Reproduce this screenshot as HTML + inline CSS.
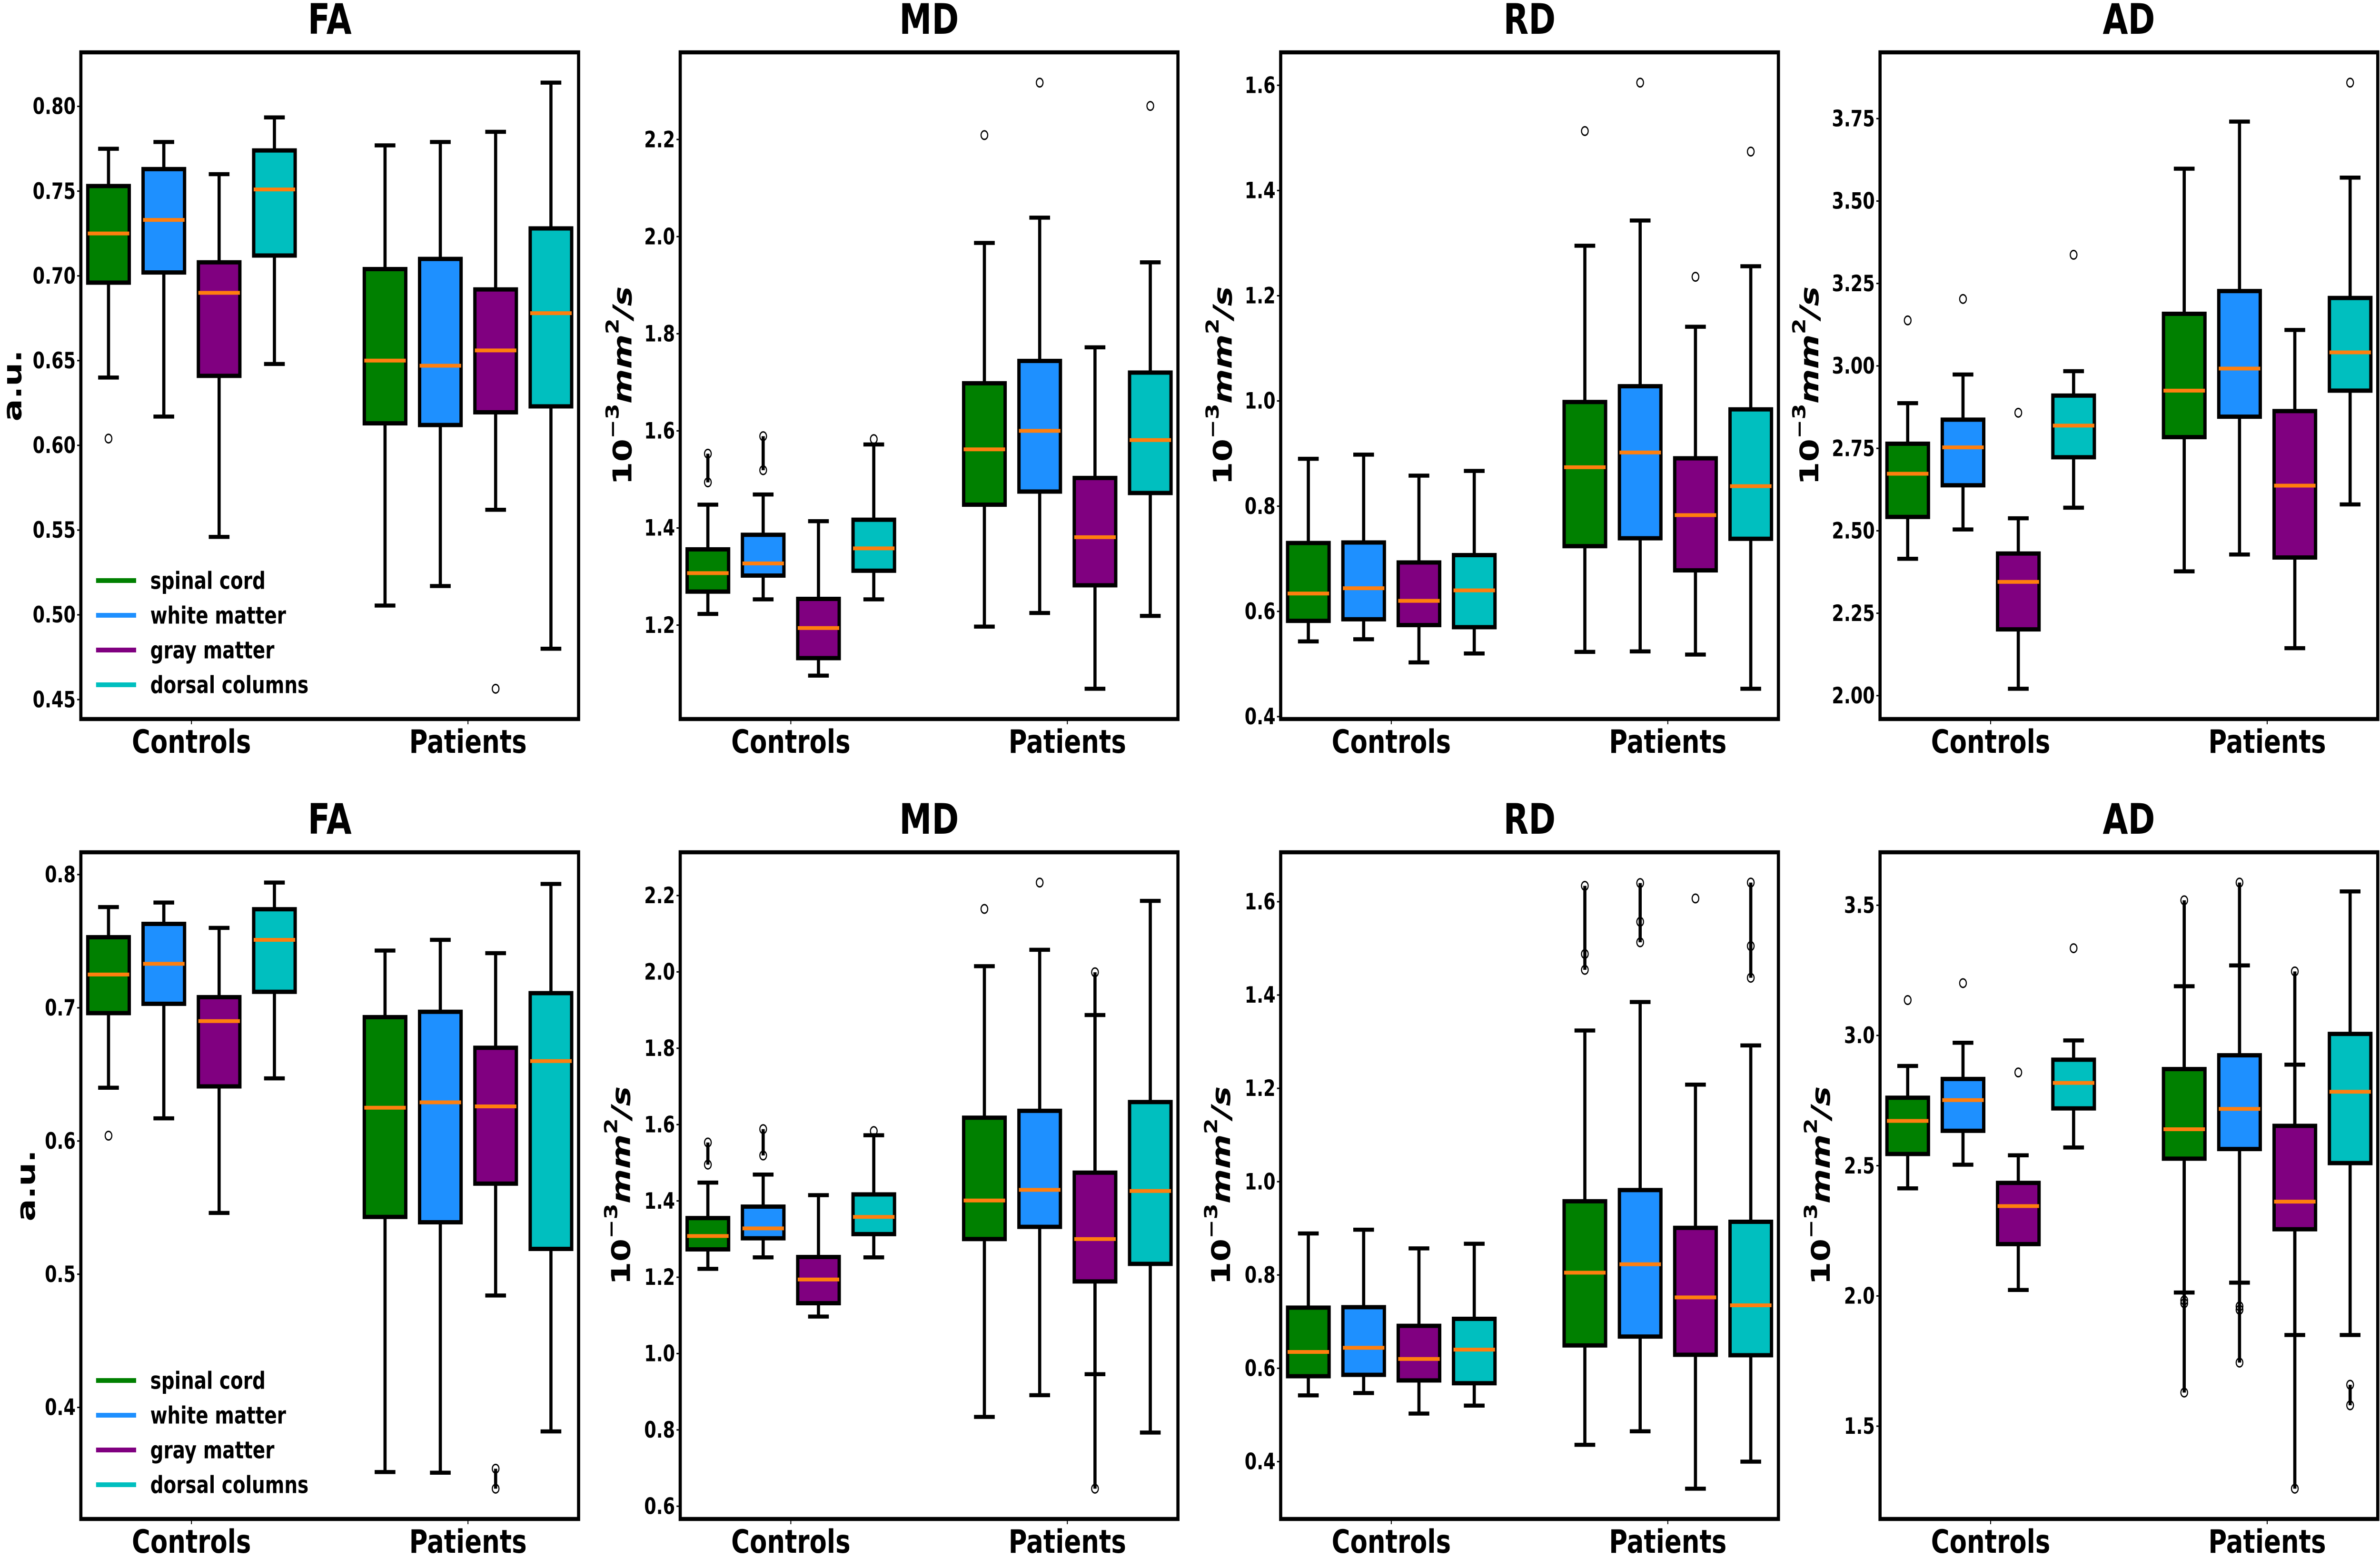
<!DOCTYPE html>
<html><head><meta charset="utf-8"><style>
html,body{margin:0;padding:0;background:#fff;overflow:hidden;width:100%;height:100%;}
svg{display:block;font-family:"DejaVu Sans","Liberation Sans",sans-serif;font-weight:bold;overflow:hidden;width:100vw;height:100vh;}
</style></head>
<body>
<svg id="fig" viewBox="0 0 6417 3274" preserveAspectRatio="none" xmlns="http://www.w3.org/2000/svg"></svg>
<script>
// categories / series order: Controls x4 regions then Patients x4 regions
const groups = ["Controls", "Patients"];
const regions = ["spinal cord", "white matter", "gray matter", "dorsal columns"];
const regionColors = ["#008000", "#1e90ff", "#800080", "#00bfbf"];

// ---- FA (top) ----
const faTopMed = [0.725,0.733,0.690,0.751, 0.650,0.647,0.656,0.678];
const faTopQ1  = [0.696,0.702,0.641,0.712, 0.613,0.612,0.6195,0.623];
const faTopQ3  = [0.753,0.763,0.708,0.774, 0.704,0.710,0.692,0.728];
const faTopLo  = [0.640,0.617,0.546,0.648, 0.5055,0.517,0.562,0.480];
const faTopHi  = [0.775,0.779,0.760,0.7935, 0.777,0.779,0.785,0.814];
const faTopFl  = [[0.604],[],[],[], [],[],[0.4564],[]];
const faTopTicks = [0.45,0.50,0.55,0.60,0.65,0.70,0.75,0.80];
// ---- MD (top) ----
const mdTopMed = [1.307,1.327,1.194,1.358, 1.562,1.600,1.381,1.581];
const mdTopQ1  = [1.269,1.302,1.132,1.312, 1.448,1.475,1.282,1.472];
const mdTopQ3  = [1.356,1.386,1.254,1.417, 1.698,1.744,1.503,1.720];
const mdTopLo  = [1.223,1.253,1.096,1.253, 1.197,1.225,1.069,1.219];
const mdTopHi  = [1.448,1.469,1.414,1.572, 1.987,2.039,1.772,1.947];
const mdTopFl  = [[1.553,1.494],[1.589,1.519],[],[1.583], [2.209],[2.317],[],[2.269]];
const mdTopTicks = [1.2,1.4,1.6,1.8,2.0,2.2];
// ---- RD (top) ----
const rdTopMed = [0.634,0.644,0.620,0.640, 0.874,0.902,0.783,0.838];
const rdTopQ1  = [0.582,0.585,0.574,0.570, 0.724,0.739,0.678,0.738];
const rdTopQ3  = [0.730,0.731,0.693,0.707, 0.998,1.028,0.891,0.984];
const rdTopLo  = [0.543,0.547,0.503,0.520, 0.523,0.524,0.518,0.453];
const rdTopHi  = [0.890,0.898,0.858,0.867, 1.295,1.343,1.141,1.256];
const rdTopFl  = [[],[],[],[], [1.513],[1.605],[1.236],[1.474]];
const rdTopTicks = [0.4,0.6,0.8,1.0,1.2,1.4,1.6];
// ---- AD (top) ----
const adTopMed = [2.673,2.753,2.345,2.819, 2.925,2.992,2.637,3.041];
const adTopQ1  = [2.542,2.638,2.201,2.723, 2.784,2.846,2.419,2.925];
const adTopQ3  = [2.764,2.837,2.431,2.910, 3.158,3.227,2.863,3.206];
const adTopLo  = [2.415,2.504,2.021,2.570, 2.377,2.428,2.144,2.580];
const adTopHi  = [2.887,2.974,2.538,2.984, 3.598,3.741,3.109,3.571];
const adTopFl  = [[3.138],[3.203],[2.858],[3.337], [],[],[],[3.859]];
const adTopTicks = [2.00,2.25,2.50,2.75,3.00,3.25,3.50,3.75];
// ---- FA (bottom) ----
const faBotMed = [0.725,0.733,0.690,0.751, 0.625,0.629,0.626,0.660];
const faBotQ1  = [0.696,0.703,0.641,0.712, 0.543,0.539,0.568,0.519];
const faBotQ3  = [0.753,0.763,0.708,0.774, 0.693,0.697,0.670,0.711];
const faBotLo  = [0.640,0.617,0.546,0.647, 0.3515,0.351,0.484,0.382];
const faBotHi  = [0.7756,0.779,0.760,0.794, 0.743,0.751,0.741,0.793];
const faBotFl  = [[0.604],[],[],[], [],[],[0.354,0.339],[]];
const faBotTicks = [0.4,0.5,0.6,0.7,0.8];
// ---- MD (bottom) ----
const mdBotMed = [1.308,1.328,1.194,1.358, 1.401,1.429,1.300,1.426];
const mdBotQ1  = [1.273,1.302,1.132,1.313, 1.300,1.332,1.189,1.235];
const mdBotQ3  = [1.355,1.385,1.253,1.417, 1.618,1.636,1.474,1.659];
const mdBotLo  = [1.222,1.252,1.097,1.252, 0.834,0.891,0.946,0.793];
const mdBotHi  = [1.448,1.469,1.415,1.572, 2.015,2.058,1.887,2.186];
const mdBotFl  = [[1.553,1.495],[1.588,1.519],[],[1.583], [2.165],[2.234],[1.999,0.646],[]];
const mdBotTicks = [0.6,0.8,1.0,1.2,1.4,1.6,1.8,2.0,2.2];
// ---- RD (bottom) ----
const rdBotMed = [0.635,0.644,0.620,0.640, 0.805,0.823,0.752,0.735];
const rdBotQ1  = [0.583,0.586,0.574,0.568, 0.649,0.668,0.629,0.628];
const rdBotQ3  = [0.730,0.731,0.691,0.706, 0.958,0.982,0.901,0.914];
const rdBotLo  = [0.542,0.547,0.503,0.520, 0.436,0.465,0.342,0.400];
const rdBotHi  = [0.889,0.897,0.857,0.867, 1.324,1.385,1.208,1.292];
const rdBotFl  = [[],[],[],[], [1.634,1.488,1.454],[1.640,1.557,1.513],[1.607],[1.641,1.505,1.437]];
const rdBotTicks = [0.4,0.6,0.8,1.0,1.2,1.4,1.6];
// ---- AD (bottom) ----
const adBotMed = [2.672,2.752,2.345,2.818, 2.640,2.718,2.362,2.784];
const adBotQ1  = [2.545,2.634,2.199,2.720, 2.527,2.564,2.256,2.510];
const adBotQ3  = [2.761,2.833,2.434,2.907, 2.871,2.924,2.653,3.006];
const adBotLo  = [2.413,2.504,2.023,2.570, 2.013,2.051,1.850,1.850];
const adBotHi  = [2.883,2.972,2.540,2.981, 3.189,3.269,2.888,3.553];
const adBotFl  = [[3.136],[3.201],[2.858],[3.335], [3.519,1.983,1.972,1.629],[3.587,1.960,1.947,1.744],[3.246,1.260],[1.659,1.580]];
const adBotTicks = [1.5,2.0,2.5,3.0,3.5];

const NS = "http://www.w3.org/2000/svg";
const fig = document.getElementById("fig");
function mk(tag, attrs, parent){
  const e = document.createElementNS(NS, tag);
  for (const k in attrs) e.setAttribute(k, attrs[k]);
  (parent || fig).appendChild(e);
  return e;
}

const AX_W = 1342, AX_H = 1401;
const XMIN = 0.6, XMAX = 2.4;
const offsets = [-0.3, -0.1, 0.1, 0.3];
const BOX_W = 0.15;
const LW = 8.5;

const panels = [
  {key:"fa-top", title:"FA", left:218, top:110, ylab:"au", ylx:33, dec:2, med:faTopMed,q1:faTopQ1,q3:faTopQ3,lo:faTopLo,hi:faTopHi,fl:faTopFl,ticks:faTopTicks, legend:true},
  {key:"md-top", title:"MD", left:1834, top:110, ylab:"unit", ylx:1678, dec:1, med:mdTopMed,q1:mdTopQ1,q3:mdTopQ3,lo:mdTopLo,hi:mdTopHi,fl:mdTopFl,ticks:mdTopTicks},
  {key:"rd-top", title:"RD", left:3453, top:110, ylab:"unit", ylx:3296, dec:1, med:rdTopMed,q1:rdTopQ1,q3:rdTopQ3,lo:rdTopLo,hi:rdTopHi,fl:rdTopFl,ticks:rdTopTicks},
  {key:"ad-top", title:"AD", left:5069, top:110, ylab:"unit", ylx:4878, dec:2, med:adTopMed,q1:adTopQ1,q3:adTopQ3,lo:adTopLo,hi:adTopHi,fl:adTopFl,ticks:adTopTicks},
  {key:"fa-bottom", title:"FA", left:218, top:1791, ylab:"au", ylx:70, dec:1, med:faBotMed,q1:faBotQ1,q3:faBotQ3,lo:faBotLo,hi:faBotHi,fl:faBotFl,ticks:faBotTicks, legend:true},
  {key:"md-bottom", title:"MD", left:1834, top:1791, ylab:"unit", ylx:1674, dec:1, med:mdBotMed,q1:mdBotQ1,q3:mdBotQ3,lo:mdBotLo,hi:mdBotHi,fl:mdBotFl,ticks:mdBotTicks},
  {key:"rd-bottom", title:"RD", left:3453, top:1791, ylab:"unit", ylx:3292, dec:1, med:rdBotMed,q1:rdBotQ1,q3:rdBotQ3,lo:rdBotLo,hi:rdBotHi,fl:rdBotFl,ticks:rdBotTicks},
  {key:"ad-bottom", title:"AD", left:5069, top:1791, ylab:"unit", ylx:4909, dec:1, med:adBotMed,q1:adBotQ1,q3:adBotQ3,lo:adBotLo,hi:adBotHi,fl:adBotFl,ticks:adBotTicks}
];

panels.forEach(p => {
  const g = mk("g", {});
  
  
  let mn = Infinity, mx = -Infinity;
  for (let i = 0; i < 8; i++) {
    mn = Math.min(mn, p.lo[i], ...p.fl[i]);
    mx = Math.max(mx, p.hi[i], ...p.fl[i]);
  }
  const m = (mx - mn) * 0.05;
  const y0 = mn - m, y1 = mx + m;
  const sx = d => p.left + (d - XMIN) / (XMAX - XMIN) * AX_W;
  const sy = v => p.top + AX_H - (v - y0) / (y1 - y0) * AX_H;
  const bottom = p.top + AX_H;

  const t = mk("text", {x: p.left + AX_W/2, y: p.top - 39, "text-anchor":"middle", "font-size":88, fill:"#000"}, g);
  t.textContent = p.title;
  
  

  p.ticks.forEach(v => {
    const y = sy(v);
    const tl = mk("line", {x1:p.left-10, x2:p.left, y1:y, y2:y, stroke:"#000", "stroke-width":3}, g);
    
    
    const lb = mk("text", {x:p.left-14, y:y, "text-anchor":"end", "dominant-baseline":"central", "font-size":47, fill:"#000"}, g);
    lb.textContent = v.toFixed(p.dec);
    
    
  });
  groups.forEach((gname, gi) => {
    const x = sx(gi + 1);
    const tl = mk("line", {x1:x, x2:x, y1:bottom, y2:bottom+11, stroke:"#000", "stroke-width":2.5}, g);
    
    
    const lb = mk("text", {x:x, y:bottom+71, "text-anchor":"middle", "font-size":68, fill:"#000"}, g);
    lb.textContent = gname;
    
    
  });

  const cy = p.top + AX_H/2;
  const yl = mk("text", {x:p.ylx, y:cy, "text-anchor":"middle", "dominant-baseline":"central", "font-size":70, fill:"#000", transform:`rotate(-90 ${p.ylx} ${cy})`}, g);
  
  
  if (p.ylab === "au") {
    yl.textContent = "a.u.";
  } else {
    const parts = [["10",0,70,"normal"],["\u22123",-26,48,"normal"],["mm",26,70,"italic"],["2",-26,48,"normal"],["/s",26,70,"italic"]];
    parts.forEach(pt => {
      const ts = mk("tspan", {dy:pt[1], "font-size":pt[2], "font-style":pt[3]}, yl);
      ts.textContent = pt[0];
    });
  }

  for (let i = 0; i < 8; i++) {
    const gi = i < 4 ? 0 : 1, ri = i % 4;
    const cx = sx(gi + 1 + offsets[ri]);
    const hw = BOX_W / 2 / (XMAX - XMIN) * AX_W;
    const bg = mk("g", {}, g);
    
    
    const f = p.fl[i];
    if (f.length > 1) {
      const pts = f.map(v => cx + "," + sy(v)).join(" ");
      const pl = mk("polyline", {points:pts, fill:"none", stroke:"#000", "stroke-width":LW}, bg);
      
      
    }
    const w1 = mk("line", {x1:cx, x2:cx, y1:sy(p.q3[i]), y2:sy(p.hi[i]), stroke:"#000", "stroke-width":LW}, bg);
    
    
    const w2 = mk("line", {x1:cx, x2:cx, y1:sy(p.q1[i]), y2:sy(p.lo[i]), stroke:"#000", "stroke-width":LW}, bg);
    
    
    const c1 = mk("line", {x1:cx-hw/2, x2:cx+hw/2, y1:sy(p.hi[i]), y2:sy(p.hi[i]), stroke:"#000", "stroke-width":LW}, bg);
    
    
    const c2 = mk("line", {x1:cx-hw/2, x2:cx+hw/2, y1:sy(p.lo[i]), y2:sy(p.lo[i]), stroke:"#000", "stroke-width":LW}, bg);
    
    
    const yt = sy(p.q3[i]), yb = sy(p.q1[i]);
    const r = mk("rect", {x:cx-hw, y:yt, width:2*hw, height:yb-yt, fill:regionColors[ri], stroke:"#000", "stroke-width":9}, bg);
    
    
    const md = mk("line", {x1:cx-hw, x2:cx+hw, y1:sy(p.med[i]), y2:sy(p.med[i]), stroke:"#ff7f0e", "stroke-width":8}, bg);
    
    
    f.forEach(v => {
      const c = mk("circle", {cx:cx, cy:sy(v), r:9, fill:"none", stroke:"#000", "stroke-width":3}, bg);
      
      
    });
  }

  const fr = mk("rect", {x:p.left, y:p.top, width:AX_W, height:AX_H, fill:"none", stroke:"#000", "stroke-width":8.5}, g);
  
  

  if (p.legend) {
    const lg = mk("g", {}, g);
    
    
    const y0l = p.top + AX_H - 291;
    regions.forEach((rn, k) => {
      const y = y0l + k * 73;
      const ent = mk("g", {}, lg);
      
      
      mk("line", {x1:p.left+41, x2:p.left+149, y1:y, y2:y, stroke:regionColors[k], "stroke-width":10}, ent);
      const tx = mk("text", {x:p.left+187, y:y, "dominant-baseline":"central", "font-size":50, fill:"#000"}, ent);
      tx.textContent = rn;
    });
  }
});
</script>
</body></html>
